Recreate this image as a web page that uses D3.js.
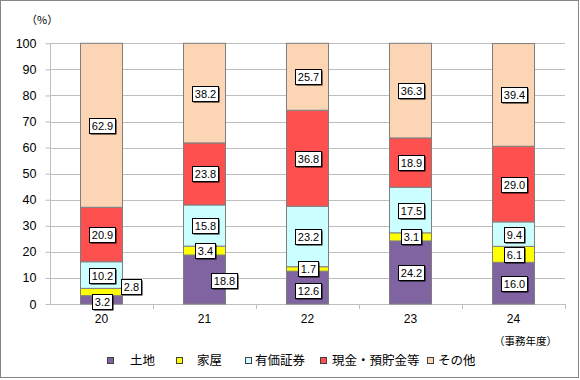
<!DOCTYPE html>
<html><head><meta charset="utf-8">
<script src="https://cdn.jsdelivr.net/npm/d3@7"></script>
<style>
html,body{margin:0;padding:0;background:#fff;}
text{font-family:"Liberation Sans","Noto Sans CJK JP",Arial,sans-serif;}
</style></head>
<body>
<svg id="c" width="580" height="380"></svg>
<script>
const years = ["20","21","22","23","24"];
const seriesNames = ["土地","家屋","有価証券","現金・預貯金等","その他"];
const land = [3.2, 18.8, 12.6, 24.2, 16.0];
const house = [2.8, 3.4, 1.7, 3.1, 6.1];
const securities = [10.2, 15.8, 23.2, 17.5, 9.4];
const cash = [20.9, 23.8, 36.8, 18.9, 29.0];
const other = [62.9, 38.2, 25.7, 36.3, 39.4];
const yTicks = [0,10,20,30,40,50,60,70,80,90,100];
const colors = ["#8064A2","#FFFF00","#CCFFFF","#FF5050","#FCD5B4"];

const seriesVals = [land, house, securities, cash, other];
const rows = years.map((y,i)=>{ const o={year:y}; seriesNames.forEach((s,k)=>o[s]=seriesVals[k][i]); return o; });
const stack = d3.stack().keys(seriesNames)(rows);

const svg = d3.select("#c");
svg.append("rect").attr("x",0.5).attr("y",0.5).attr("width",578).attr("height",377)
  .attr("fill","#fff").attr("stroke","#868686");

const m = {l:50, r:565, t:43.3, b:304};
const x = d3.scaleBand().domain(years).range([m.l, m.r]).paddingInner(0).paddingOuter(0);
const y = d3.scaleLinear().domain([0,100]).range([m.b, m.t]);
const bw = 42;

// gridlines
svg.append("g").selectAll("line").data(yTicks.filter(t=>t>0)).join("line")
  .attr("x1",m.l).attr("x2",m.r).attr("y1",d=>Math.round(y(d))+0.5).attr("y2",d=>Math.round(y(d))+0.5)
  .attr("stroke","#BEBEBE").attr("stroke-width",1);

// y axis
const ya = svg.append("g").attr("transform",`translate(${m.l+0.5},0)`)
  .call(d3.axisLeft(y).tickValues(yTicks).tickSize(5).tickPadding(9).tickFormat(d3.format("d")));
ya.select(".domain").attr("stroke","#BEBEBE").attr("d",`M0,${m.t}V${m.b}`);
ya.selectAll(".tick line").attr("stroke","#BEBEBE");
ya.selectAll(".tick text").attr("font-size",12.5).attr("fill","#000");

// x axis
const xa = svg.append("g").attr("transform",`translate(0,${Math.round(m.b)+0.5})`)
  .call(d3.axisBottom(x).tickSize(0).tickPadding(10));
xa.select(".domain").attr("stroke","#BEBEBE").attr("d",`M${m.l},0H${m.r}`);
xa.selectAll(".tick text").attr("font-size",12).attr("fill","#000");
const bounds = years.map((yy)=>x(yy)+x.bandwidth());
svg.append("g").selectAll("line").data(bounds).join("line")
  .attr("x1",d=>Math.round(d)+0.5).attr("x2",d=>Math.round(d)+0.5)
  .attr("y1",Math.round(m.b)).attr("y2",Math.round(m.b)+5).attr("stroke","#BEBEBE");

// bars
const gBars = svg.append("g");
stack.forEach((layer,k)=>{
  gBars.selectAll(null).data(layer).join("rect")
    .attr("x",d=>x(d.data.year)+x.bandwidth()/2-bw/2)
    .attr("y",d=>y(d[1]))
    .attr("width",bw)
    .attr("height",d=>y(d[0])-y(d[1]))
    .attr("fill",colors[k]).attr("stroke","#7F7F7F").attr("stroke-width",1);
});

// labels
const special = {"20|家屋":[29,-6], "20|土地":[0,2], "21|土地":[19,1], "22|土地":[0,3]};
const gL = svg.append("g");
stack.forEach((layer,k)=>{
  layer.forEach(d=>{
    const txt = seriesVals[k][years.indexOf(d.data.year)].toFixed(1);
    const off = special[d.data.year+"|"+seriesNames[k]] || [0,0];
    const cx = x(d.data.year)+x.bandwidth()/2 + off[0];
    const cy = (y(d[0])+y(d[1]))/2 + off[1];
    const w = txt.length>3 ? 26 : 20, h = 15;
    const bx = Math.round(cx-w/2)+0.5, by = Math.round(cy-h/2)+0.5;
    const g = gL.append("g");
    g.append("rect").attr("x",bx+1).attr("y",by+1)
      .attr("width",w).attr("height",h).attr("fill","#000");
    g.append("rect").attr("x",bx).attr("y",by)
      .attr("width",w).attr("height",h).attr("fill","#fff").attr("stroke","#000");
    g.append("text").attr("x",bx+w/2).attr("y",by+h/2+4)
      .attr("text-anchor","middle").attr("font-size",11).attr("fill","#000").text(txt);
  });
});

// unit labels
svg.append("text").attr("x",26).attr("y",24).attr("font-size",11).attr("fill","#000").text("（%）")
  .style("font-family","Noto Sans CJK JP, sans-serif");
svg.append("text").attr("x",557).attr("y",345).attr("text-anchor","end").attr("font-size",10.5)
  .style("font-family","Noto Sans CJK JP, sans-serif").attr("fill","#000").text("（事務年度）");

// legend
const legX = [107, 176, 245, 320, 427];
const legTX = [130, 197, 255, 332, 438];
const gLeg = svg.append("g");
seriesNames.forEach((s,k)=>{
  gLeg.append("rect").attr("x",legX[k]+0.5).attr("y",357.5).attr("width",6).attr("height",6)
    .attr("fill",colors[k]).attr("stroke","#404040");
  gLeg.append("text").attr("x",legTX[k]).attr("y",365).attr("font-size",12.5)
    .style("font-family","Noto Sans CJK JP, sans-serif").attr("fill","#000").text(s);
});
</script>
</body></html>
